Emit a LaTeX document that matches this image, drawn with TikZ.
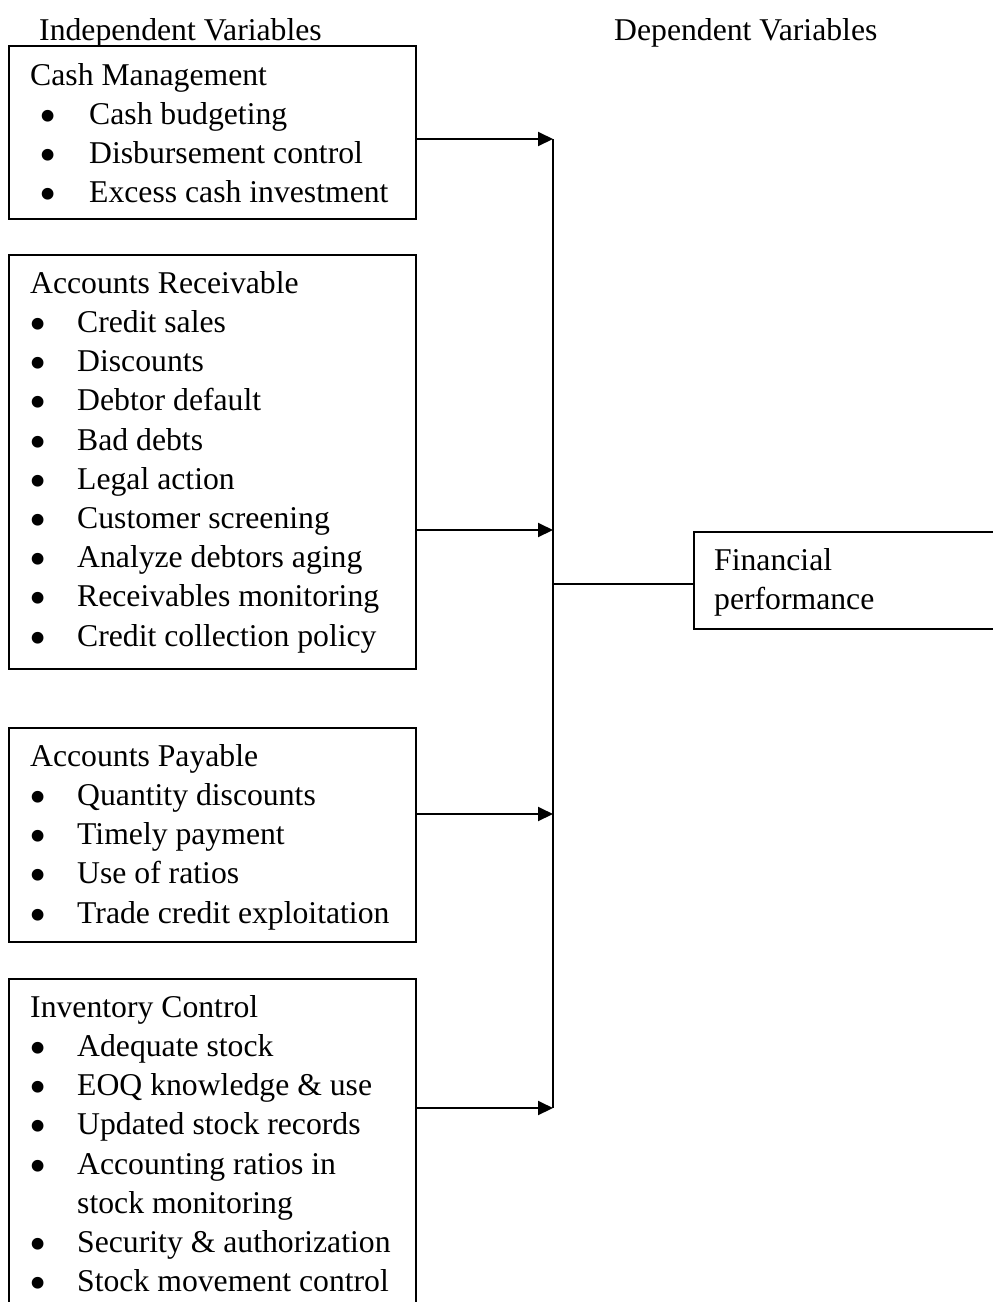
\documentclass[tikz,border=0pt]{standalone}
\usepackage{fontspec}
\setmainfont{Liberation Serif}
\usetikzlibrary{arrows.meta,positioning}

\newcommand{\bigbul}{\raisebox{-8pt}{\scalebox{1.55}{\textbullet}}}
\newcommand{\itemA}[1]{\makebox[59pt][l]{\hspace{9pt}\bigbul}#1}
\newcommand{\itemB}[1]{\makebox[47pt][l]{\hspace{-1pt}\bigbul}#1}

\tikzset{
  varbox/.style={draw, line width=1.8pt, minimum width=407pt, inner sep=0pt, anchor=north west},
  vartext/.style={anchor=north west, align=left, inner sep=0pt, execute at begin node={\rule{0pt}{30pt}}},
  feed/.style={-{Triangle[length=15pt,width=14pt]}, line width=2pt},
}

\begin{document}
\begin{tikzpicture}[x=1pt, y=-1pt, font=\fontsize{31.7}{39.2}\selectfont]
	\clip (0,0) rectangle (993,1302);
	% headings
	\node[vartext] (indep) at (39,10) {Independent Variables};
	\node[vartext] (dep) at (614,10) {Dependent Variables};
	% independent variables
	\node[varbox, minimum height=173pt] (cash) at (8,45) {};
	\node[vartext] (cashtxt) at (30,63) {Cash Management\\ \itemA{Cash budgeting}\\ \itemA{Disbursement control}\\ \itemA{Excess cash investment}};
	\node[varbox, minimum height=414pt] (recv) at (8,254) {};
	\node[vartext] (recvtxt) at (30,271) {Accounts Receivable\\ \itemB{Credit sales}\\ \itemB{Discounts}\\ \itemB{Debtor default}\\ \itemB{Bad debts}\\ \itemB{Legal action}\\ \itemB{Customer screening}\\ \itemB{Analyze debtors aging}\\ \itemB{Receivables monitoring}\\ \itemB{Credit collection policy}};
	\node[varbox, minimum height=214pt] (pay) at (8,727) {};
	\node[vartext] (paytxt) at (30,744) {Accounts Payable\\ \itemB{Quantity discounts}\\ \itemB{Timely payment}\\ \itemB{Use of ratios}\\ \itemB{Trade credit exploitation}};
	\node[varbox, minimum height=400pt] (inv) at (8,978) {};
	\node[vartext] (invtxt) at (30,995) {Inventory Control\\ \itemB{Adequate stock}\\ \itemB{EOQ knowledge \& use}\\ \itemB{Updated stock records}\\ \itemB{Accounting ratios in}\\ \hspace*{47pt}stock monitoring\\ \itemB{Security \& authorization}\\ \itemB{Stock movement control}};
	% dependent variable
	\node[varbox, minimum width=330pt, minimum height=97pt] (fin) at (693,531) {};
	\node[vartext] (fintxt) at (714,548) {Financial\\ performance};
	% connectors
	\coordinate (t1) at (553,139);
	\coordinate (t2) at (553,530);
	\coordinate (t3) at (553,814);
	\coordinate (t4) at (553,1108);
	\coordinate (j) at (553,584);
	\draw[feed] (t1 -| cash.east) -- (t1);
	\draw[feed] (t2 -| recv.east) -- (t2);
	\draw[feed] (t3 -| pay.east) -- (t3);
	\draw[feed] (t4 -| inv.east) -- (t4);
	\draw[line width=2pt] (t1) -- (t4);
	\draw[line width=1.5pt] (j) -- (j -| fin.west);
\end{tikzpicture}
\end{document}
